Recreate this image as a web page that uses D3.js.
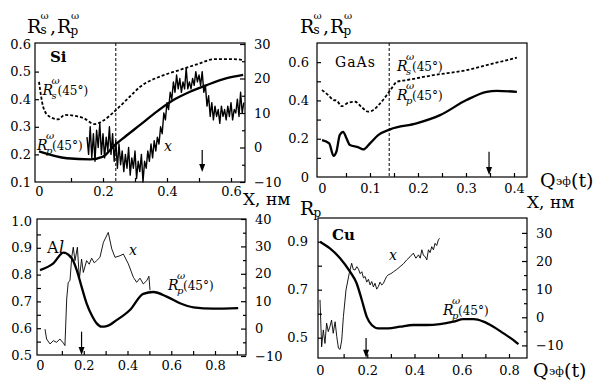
<!DOCTYPE html>
<html><head><meta charset="utf-8">
<script src="https://cdn.jsdelivr.net/npm/d3@7"></script>
<style>
html,body{margin:0;padding:0;background:#fff;}
svg{display:block;}
svg text{font-family:'DejaVu Serif','Liberation Serif',serif;}
</style></head>
<body><svg id="c" width="609" height="392"></svg>
<script>
// ---------------- DATA ----------------
// Si panel
const siRsQ = [0, 0.013, 0.03, 0.06, 0.08, 0.11, 0.14, 0.173, 0.2, 0.238, 0.28, 0.316, 0.378, 0.44, 0.503, 0.545, 0.607, 0.64];
const siRsV = [0.463, 0.373, 0.339, 0.327, 0.343, 0.34, 0.331, 0.31, 0.322, 0.358, 0.405, 0.445, 0.482, 0.506, 0.53, 0.545, 0.545, 0.542];
const siRpQ = [0, 0.087, 0.16, 0.2, 0.232, 0.269, 0.316, 0.368, 0.42, 0.472, 0.524, 0.587, 0.638];
const siRpV = [0.211, 0.186, 0.182, 0.192, 0.228, 0.264, 0.307, 0.355, 0.397, 0.427, 0.451, 0.476, 0.488];
const siXQ = [0.150,0.155,0.160,0.165,0.170,0.175,0.180,0.185,0.190,0.195,0.200,0.205,0.210,0.215,0.220,0.225,0.230,0.235,0.240,0.245,0.250,0.255,0.260,0.265,0.270,0.275,0.280,0.285,0.290,0.295,0.300,0.305,0.310,0.315,0.320,0.325,0.330,0.335,0.340,0.345,0.350,0.355,0.360,0.365,0.370,0.375,0.380,0.385,0.390,0.395,0.400,0.405,0.410,0.415,0.420,0.425,0.430,0.435,0.440,0.445,0.450,0.455,0.460,0.465,0.470,0.475,0.480,0.485,0.490,0.495,0.500,0.505,0.510,0.515,0.520,0.525,0.530,0.535,0.540,0.545,0.550,0.555,0.560,0.565,0.570,0.575,0.580,0.585,0.590,0.595,0.600,0.605,0.610,0.615,0.620,0.625,0.630,0.635,0.640];
const siXV = [3,-2,6,-3,4,-4,5,0,7,-2,4,-3,3,-1,6,-2,4,-4,2,-6,1,-5,-1,-7,-2,-6,0,-8,-3,-6,-1,-9,-4,-7,-2,-10,-4,-6,-1,-4,1,-3,2,-1,3,1,6,4,10,8,13,11,16,14,19,16,21,17,20,16,19,17,23,17,19,17,20,18,22,19,21,18,22,16,18,12,15,9,13,8,12,9,11,7,12,9,11,8,12,9,13,8,11,10,14,9,16,10,13];
const siDash = 0.24;
const siArrow = [0.51, 0.216, 0.136];

// GaAs panel
const gaRsQ = [0, 0.013, 0.024, 0.03, 0.041, 0.055, 0.069, 0.083, 0.096, 0.107, 0.121, 0.135, 0.145, 0.156, 0.176, 0.232, 0.301, 0.343, 0.406];
const gaRsV = [0.454, 0.428, 0.402, 0.40, 0.37, 0.388, 0.393, 0.364, 0.341, 0.35, 0.384, 0.428, 0.463, 0.497, 0.506, 0.532, 0.558, 0.584, 0.624];
const gaRpQ = [0, 0.015, 0.024, 0.03, 0.037, 0.044, 0.051, 0.058, 0.076, 0.086, 0.1, 0.117, 0.142, 0.197, 0.246, 0.301, 0.343, 0.364, 0.406];
const gaRpV = [0.193, 0.176, 0.11, 0.132, 0.219, 0.236, 0.202, 0.167, 0.155, 0.144, 0.176, 0.219, 0.249, 0.28, 0.323, 0.402, 0.445, 0.45, 0.445];
const gaDash = 0.14;
const gaArrow = [0.348, 0.132, 0.01];

// Al panel
const alRpQ = [0, 0.061, 0.107, 0.145, 0.168, 0.19, 0.213, 0.236, 0.259, 0.282, 0.305, 0.35, 0.411, 0.472, 0.518, 0.579, 0.64, 0.701, 0.792, 0.906];
const alRpV = [0.817, 0.842, 0.882, 0.861, 0.817, 0.755, 0.693, 0.649, 0.618, 0.606, 0.608, 0.63, 0.668, 0.728, 0.735, 0.718, 0.693, 0.678, 0.673, 0.675];
const alXQ = [0.023, 0.03, 0.046, 0.061, 0.076, 0.091, 0.107, 0.114, 0.122, 0.129, 0.137, 0.145, 0.152, 0.16, 0.171, 0.18, 0.19, 0.198, 0.213, 0.225, 0.236, 0.248, 0.259, 0.274, 0.29, 0.312, 0.328, 0.343, 0.366, 0.381, 0.404, 0.427, 0.442, 0.457, 0.472, 0.488, 0.498, 0.503];
const alXV = [-0.2, -3.8, -5.6, -4.4, -5, -3.8, -5.3, -6.2, 10.8, 16.9, 17.5, 26, 29.7, 24.8, 29.7, 18.1, 25.4, 20.5, 24.8, 23.5, 25.7, 24, 24.8, 26, 31.5, 35.1, 29.1, 26, 26.6, 27.2, 23.6, 18.7, 16.9, 18.4, 16.3, 17.5, 19.1, 14];
const alArrow = [0.19, 0.587, 0.5];

// Cu panel
const cuRpQ = [0, 0.042, 0.085, 0.127, 0.155, 0.177, 0.198, 0.219, 0.247, 0.289, 0.339, 0.395, 0.452, 0.508, 0.565, 0.607, 0.65, 0.692, 0.734, 0.777, 0.819, 0.84];
const cuRpV = [0.9, 0.872, 0.831, 0.775, 0.727, 0.657, 0.587, 0.553, 0.539, 0.539, 0.546, 0.553, 0.553, 0.557, 0.567, 0.577, 0.577, 0.567, 0.546, 0.518, 0.49, 0.473];
const cuXQ = [0, 0.003, 0.007, 0.014, 0.021, 0.028, 0.035, 0.042, 0.049, 0.056, 0.064, 0.071, 0.078, 0.085, 0.092, 0.099, 0.11, 0.124, 0.134, 0.141, 0.148, 0.156, 0.163, 0.17, 0.177, 0.184, 0.191, 0.198, 0.205, 0.212, 0.219, 0.226, 0.233, 0.24, 0.247, 0.254, 0.261, 0.268, 0.275, 0.282, 0.289, 0.3, 0.311, 0.325, 0.339, 0.353, 0.367, 0.381, 0.395, 0.406, 0.417, 0.424, 0.431, 0.438, 0.445, 0.452, 0.459, 0.466, 0.473, 0.48, 0.487, 0.494, 0.501, 0.506];
const cuXV = [6.2, -1, -10.5, -4.5, -9.3, -2.1, -5.1, -3.3, -1, -5.7, -1.6, -6.9, -11, -11.4, -8.1, 0.2, 9.7, 15.7, 19.2, 17, 16.8, 18, 17.1, 15.5, 16.2, 14, 14.5, 12.5, 13.5, 11.5, 12.7, 10.8, 12.1, 10, 10.9, 12.5, 11.5, 12, 13.3, 14.5, 15.1, 15.5, 16.2, 17, 18, 19, 20.4, 21.5, 22.8, 21, 22.2, 21, 24, 22, 21.6, 20.4, 24, 23, 25.1, 24, 26.3, 25.5, 27.5, 28.1];
const cuArrow = [0.195, 0.499, 0.416];

// ---------------- DRAW ----------------
const svg = d3.select("#c");
const FONT = "'DejaVu Serif','Liberation Serif',serif";

function zip(a, b) { return a.map((v, i) => [v, b[i]]); }
function styleText(s) {
  s.selectAll("text").style("font-family", FONT).style("font-size", "13px").attr("fill", "#000");
}

function drawPanel(o) {
  const g = svg.append("g");
  const x = d3.scaleLinear().domain(o.xDom).range(o.xRange);
  const yL = d3.scaleLinear().domain(o.yLDom).range(o.yLRange);
  const yR = o.yRDom ? d3.scaleLinear().domain(o.yRDom).range(o.yRRange) : null;
  const [bx0, bx1] = o.boxX, [by0, by1] = o.boxY;

  g.append("rect").attr("x", bx0).attr("y", by0).attr("width", bx1 - bx0).attr("height", by1 - by0)
    .attr("fill", "none").attr("stroke", "#000").attr("stroke-width", 1.2);

  const bAx = d3.axisBottom(x).tickValues(o.xMinor).tickSize(-4).tickFormat("");
  g.append("g").attr("transform", `translate(0,${by1})`).call(bAx).call(s => { s.select(".domain").remove(); s.selectAll("line").attr("stroke-width", 1.2); });
  const bLab = d3.axisBottom(x).tickValues(o.xTicks).tickSize(0).tickPadding(o.xPad).tickFormat(d => d === 0 ? "0" : d3.format(".1f")(d));
  g.append("g").attr("transform", `translate(0,${by1})`).call(bLab)
    .call(s => { s.select(".domain").remove(); styleText(s); });

  const lAx = d3.axisLeft(yL).tickValues(o.yLMinor).tickSize(-4).tickFormat("");
  g.append("g").attr("transform", `translate(${bx0},0)`).call(lAx).call(s => { s.select(".domain").remove(); s.selectAll("line").attr("stroke-width", 1.2); });
  const lLab = d3.axisLeft(yL).tickValues(o.yLTicks).tickSize(0).tickPadding(o.yLPad).tickFormat(d => d === 0 ? "0" : d3.format(".1f")(d));
  g.append("g").attr("transform", `translate(${bx0},0)`).call(lLab)
    .call(s => { s.select(".domain").remove(); styleText(s); });

  if (yR) {
    const rAx = d3.axisRight(yR).tickValues(o.yRMinor).tickSize(-3).tickFormat("");
    g.append("g").attr("transform", `translate(${bx1},0)`).call(rAx).call(s => { s.select(".domain").remove(); s.selectAll("line").attr("stroke-width", 1.2); });
    const rAx2 = d3.axisRight(yR).tickValues(o.yRTicks).tickSize(-5).tickPadding(9).tickFormat(d => d < 0 ? "\u2212" + Math.abs(d) : String(d));
    g.append("g").attr("transform", `translate(${bx1},0)`).call(rAx2)
      .call(s => { s.select(".domain").remove(); s.selectAll("line").attr("stroke-width", 1.2); styleText(s); });
  }

  const lineL = d3.line().x(d => x(d[0])).y(d => yL(d[1])).curve(d3.curveMonotoneX);
  const lineR = d3.line().x(d => x(d[0])).y(d => yR(d[1]));

  if (o.dash != null) {
    g.append("line").attr("x1", x(o.dash)).attr("x2", x(o.dash)).attr("y1", by0).attr("y2", by1)
      .attr("stroke", "#000").attr("stroke-width", 1).attr("stroke-dasharray", "3,2");
  }
  if (o.xTrace) {
    g.append("path").attr("d", lineR(o.xTrace)).attr("fill", "none").attr("stroke", "#000")
      .attr("stroke-width", o.xTraceW).attr("stroke-linejoin", "round");
  }
  if (o.rs) {
    g.append("path").attr("d", lineL(o.rs)).attr("fill", "none").attr("stroke", "#000")
      .attr("stroke-width", 1.8).attr("stroke-dasharray", "3,2");
  }
  g.append("path").attr("d", lineL(o.rp)).attr("fill", "none").attr("stroke", "#000")
    .attr("stroke-width", 2.3).attr("stroke-linejoin", "round");

  const [aq, a0, a1] = o.arrow;
  const ax = x(aq), ay0 = yL(a0), ay1 = yL(a1);
  g.append("line").attr("x1", ax).attr("x2", ax).attr("y1", ay0).attr("y2", ay1 - 6).attr("stroke", "#000").attr("stroke-width", 1.2);
  g.append("path").attr("d", `M${ax - 3},${ay1 - 8}L${ax + 3},${ay1 - 8}L${ax},${ay1}Z`).attr("fill", "#000");
  return g;
}

function txt(x, y, s, fs, opts = {}) {
  const t = svg.append("text").attr("x", x).attr("y", y).style("font-family", FONT).style("font-size", fs + "px").attr("fill", "#000").text(s);
  if (opts.italic) t.style("font-style", "italic");
  if (opts.weight) t.style("font-weight", opts.weight);
  if (opts.anchor) t.attr("text-anchor", opts.anchor);
  if (opts.ls) t.style("letter-spacing", opts.ls + "px");
  return t;
}
function rLabel(x, y, sub) {
  txt(x, y, "R", 14, { italic: true });
  txt(x + 9, y + 4, sub, 10, { italic: true });
  txt(x + 9, y - 11, "\u03c9", 10, { italic: true });
  txt(x + 15, y, "(45\u00b0)", 12);
}
function axisTitle(x, y) {
  txt(x, y, "R", 19);
  txt(x + 13.5, y + 1, "s", 12);
  txt(x + 13.6, y - 14, "\u03c9", 10);
  txt(x + 23, y, ",", 19);
  txt(x + 30, y, "R", 19);
  txt(x + 43.5, y + 2, "p", 12);
  txt(x + 44, y - 14, "\u03c9", 10);
}
function qLabel(x, y) {
  txt(x, y, "Q", 19);
  txt(x + 16, y - 2, "\u044d\u0444", 11);
  txt(x + 31, y, "(t)", 19);
}

// Si
drawPanel({
  boxX: [35, 245], boxY: [43, 182],
  xDom: [0, 0.6], xRange: [39, 231], xTicks: [0, 0.2, 0.4, 0.6], xMinor: [0.1, 0.2, 0.3, 0.4, 0.5, 0.6], xPad: 5,
  yLDom: [0.1, 0.6], yLRange: [182, 44], yLTicks: [0.1, 0.2, 0.3, 0.4, 0.5, 0.6], yLMinor: [0.2, 0.3, 0.4, 0.5], yLPad: 4,
  yRDom: [-10, 30], yRRange: [182, 44], yRTicks: [-10, 0, 10, 20, 30], yRMinor: [-5, 5, 15, 25],
  dash: siDash, rs: zip(siRsQ, siRsV), rp: zip(siRpQ, siRpV), xTrace: zip(siXQ, siXV), xTraceW: 1.4, arrow: siArrow
});
txt(50, 62, "Si", 15, { weight: "bold" });
rLabel(42.5, 95, "s");
rLabel(37, 150, "p");
txt(164, 151, "x", 14, { italic: true });
axisTitle(27, 33);
txt(243, 205, "X, \u043d\u043c", 17);

// GaAs
drawPanel({
  boxX: [317, 527], boxY: [43, 177],
  xDom: [0, 0.4], xRange: [322, 514], xTicks: [0, 0.1, 0.2, 0.3, 0.4], xMinor: [0.05, 0.1, 0.15, 0.2, 0.25, 0.3, 0.35, 0.4], xPad: 7,
  yLDom: [0, 0.7], yLRange: [177, 43], yLTicks: [0, 0.2, 0.4, 0.6], yLMinor: [0.1, 0.2, 0.3, 0.4, 0.5, 0.6], yLPad: 8,
  dash: gaDash, rs: zip(gaRsQ, gaRsV), rp: zip(gaRpQ, gaRpV), arrow: gaArrow
});
txt(335, 67, "GaAs", 14, { ls: 1 });
rLabel(397, 71, "s");
rLabel(397, 100, "p");
axisTitle(300, 33);
qLabel(540, 187);
txt(527, 208, "X, \u043d\u043c", 17);

// Al
drawPanel({
  boxX: [37, 246], boxY: [219, 355],
  xDom: [0, 0.8], xRange: [40, 215], xTicks: [0, 0.2, 0.4, 0.6, 0.8], xMinor: [0.1, 0.2, 0.3, 0.4, 0.5, 0.6, 0.7, 0.8, 0.9], xPad: 6,
  yLDom: [0.5, 1.0], yLRange: [355, 221], yLTicks: [0.5, 0.6, 0.7, 0.8, 0.9, 1.0], yLMinor: [0.55, 0.6, 0.65, 0.7, 0.75, 0.8, 0.85, 0.9, 0.95], yLPad: 5,
  yRDom: [-10, 40], yRRange: [356, 219], yRTicks: [-10, 0, 10, 20, 30, 40], yRMinor: [-5, 5, 15, 25, 35],
  rp: zip(alRpQ, alRpV), xTrace: zip(alXQ, alXV), xTraceW: 0.9, arrow: alArrow
});
txt(47, 253, "A", 16);
txt(59, 253, "l", 16, { italic: true });
txt(129, 255, "x", 14, { italic: true });
rLabel(168, 290, "p");

// Cu
drawPanel({
  boxX: [318, 527], boxY: [218, 358],
  xDom: [0, 0.8], xRange: [320, 509], xTicks: [0, 0.2, 0.4, 0.6, 0.8], xMinor: [0.1, 0.2, 0.3, 0.4, 0.5, 0.6, 0.7, 0.8], xPad: 8,
  yLDom: [0.5, 0.9], yLRange: [337.7, 241.7], yLTicks: [0.5, 0.7, 0.9], yLMinor: [0.5, 0.6, 0.7, 0.8, 0.9], yLPad: 10,
  yRDom: [-10, 30], yRRange: [345.4, 232.9], yRTicks: [-10, 0, 10, 20, 30], yRMinor: [-5, 5, 15, 25],
  rp: zip(cuRpQ, cuRpV), xTrace: zip(cuXQ, cuXV), xTraceW: 0.9, arrow: cuArrow
});
txt(332, 240, "Cu", 15, { weight: "bold" });
txt(389, 260, "x", 14, { italic: true });
rLabel(443, 315, "p");
txt(300, 215, "R", 19);
txt(313.5, 217, "p", 12);
qLabel(533, 377);
</script>
</body></html>
